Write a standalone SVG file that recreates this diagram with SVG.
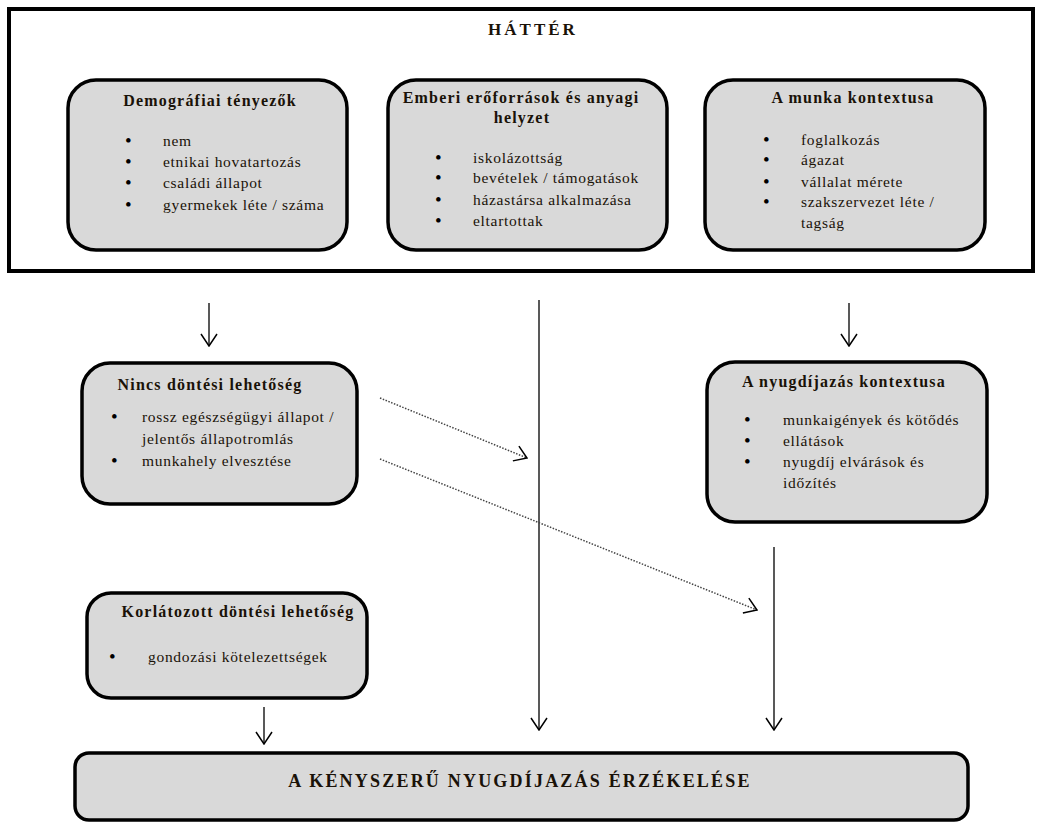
<svg xmlns="http://www.w3.org/2000/svg" width="1039" height="828" viewBox="0 0 1039 828">
<defs>
<marker id="open" viewBox="0 0 14 18" refX="13" refY="9" markerWidth="14" markerHeight="18" markerUnits="userSpaceOnUse" orient="auto">
<path d="M1,1 L13,9 L1,17" fill="none" stroke="#000" stroke-width="1.5"/>
</marker>
</defs>
<style>
.box{fill:#d9d9d9;stroke:#000;stroke-width:3.5}
.frame{fill:#fff;stroke:#000;stroke-width:4}
.t{font-family:"Liberation Serif","Times New Roman",serif;font-weight:bold;font-size:16px;letter-spacing:1.2px;fill:#1a1208;text-anchor:middle}
.b{font-family:"Liberation Serif","Times New Roman",serif;font-size:15.5px;letter-spacing:0.7px;fill:#1a1208}
.bu{font-size:19px;fill:#000}
.ln{stroke:#222;stroke-width:1.5;fill:none}
.dot{stroke:#444;stroke-width:1.5;stroke-dasharray:1.5 1.5;fill:none}
</style>
<rect width="1039" height="828" fill="#fff"/>
<g id="hatter">
<rect class="frame" x="9" y="9" width="1024" height="262"/>
<text class="t" x="533" y="35" style="letter-spacing:3px;font-size:17px">HÁTTÉR</text>
</g>
<g id="demografiai">
<rect class="box" x="68" y="80" width="279" height="170" rx="28"/>
<text class="t" x="210" y="106">Demográfiai tényezők</text>
<text class="b" y="146"><tspan class="bu" x="125" dy="1">•</tspan><tspan x="163" dy="-1">nem</tspan></text>
<text class="b" y="167"><tspan class="bu" x="125" dy="1">•</tspan><tspan x="163" dy="-1">etnikai hovatartozás</tspan></text>
<text class="b" y="188"><tspan class="bu" x="125" dy="1">•</tspan><tspan x="163" dy="-1">családi állapot</tspan></text>
<text class="b" y="210"><tspan class="bu" x="125" dy="1">•</tspan><tspan x="163" dy="-1">gyermekek léte / száma</tspan></text>
</g>
<g id="emberi">
<rect class="box" x="388" y="80" width="279" height="170" rx="28"/>
<text class="t" x="521" y="103">Emberi erőforrások és anyagi</text>
<text class="t" x="522" y="123">helyzet</text>
<text class="b" y="163"><tspan class="bu" x="435" dy="1">•</tspan><tspan x="473" dy="-1">iskolázottság</tspan></text>
<text class="b" y="183"><tspan class="bu" x="435" dy="1">•</tspan><tspan x="473" dy="-1">bevételek / támogatások</tspan></text>
<text class="b" y="205"><tspan class="bu" x="435" dy="1">•</tspan><tspan x="473" dy="-1">házastársa alkalmazása</tspan></text>
<text class="b" y="226"><tspan class="bu" x="435" dy="1">•</tspan><tspan x="473" dy="-1">eltartottak</tspan></text>
</g>
<g id="munka">
<rect class="box" x="705" y="80" width="280" height="170" rx="28"/>
<text class="t" x="853" y="103">A munka kontextusa</text>
<text class="b" y="145"><tspan class="bu" x="763" dy="1">•</tspan><tspan x="801" dy="-1">foglalkozás</tspan></text>
<text class="b" y="165"><tspan class="bu" x="763" dy="1">•</tspan><tspan x="801" dy="-1">ágazat</tspan></text>
<text class="b" y="187"><tspan class="bu" x="763" dy="1">•</tspan><tspan x="801" dy="-1">vállalat mérete</tspan></text>
<text class="b" y="207"><tspan class="bu" x="763" dy="1">•</tspan><tspan x="801" dy="-1">szakszervezet léte /</tspan></text>
<text class="b" x="801" y="228">tagság</text>
</g>
<g id="nincs">
<rect class="box" x="82" y="363" width="275" height="141" rx="28"/>
<text class="t" x="210" y="390">Nincs döntési lehetőség</text>
<text class="b" y="422"><tspan class="bu" x="111" dy="1">•</tspan><tspan x="142" dy="-1">rossz egészségügyi állapot /</tspan></text>
<text class="b" x="142" y="444">jelentős állapotromlás</text>
<text class="b" y="466"><tspan class="bu" x="111" dy="1">•</tspan><tspan x="142" dy="-1">munkahely elvesztése</tspan></text>
</g>
<g id="nyugdij">
<rect class="box" x="707" y="362" width="280" height="160" rx="28"/>
<text class="t" x="844" y="387">A nyugdíjazás kontextusa</text>
<text class="b" y="425"><tspan class="bu" x="744" dy="1">•</tspan><tspan x="783" dy="-1">munkaigények és kötődés</tspan></text>
<text class="b" y="446"><tspan class="bu" x="744" dy="1">•</tspan><tspan x="783" dy="-1">ellátások</tspan></text>
<text class="b" y="467"><tspan class="bu" x="744" dy="1">•</tspan><tspan x="783" dy="-1">nyugdíj elvárások és</tspan></text>
<text class="b" x="783" y="488">időzítés</text>
</g>
<g id="korlatozott">
<rect class="box" x="87" y="593" width="280" height="105" rx="24"/>
<text class="t" x="238" y="617">Korlátozott döntési lehetőség</text>
<text class="b" y="662"><tspan class="bu" x="109" dy="1">•</tspan><tspan x="148" dy="-1">gondozási kötelezettségek</tspan></text>
</g>
<g id="kenyszeru">
<rect class="box" x="75" y="753" width="893" height="67" rx="14"/>
<text class="t" x="520" y="787" style="font-size:18px;letter-spacing:2.2px">A KÉNYSZERŰ NYUGDÍJAZÁS ÉRZÉKELÉSE</text>
</g>
<g id="connectors">
<line class="ln" x1="209" y1="303" x2="209" y2="346" marker-end="url(#open)"/>
<line class="ln" x1="849" y1="303" x2="849" y2="346" marker-end="url(#open)"/>
<line class="ln" x1="539" y1="300" x2="539" y2="730" marker-end="url(#open)"/>
<line class="ln" x1="774" y1="547" x2="774" y2="730" marker-end="url(#open)"/>
<line class="ln" x1="264" y1="707" x2="264" y2="744" marker-end="url(#open)"/>
<line class="dot" x1="380" y1="398" x2="527" y2="458" marker-end="url(#open)"/>
<line class="dot" x1="380" y1="459" x2="757" y2="610" marker-end="url(#open)"/>
</g>
</svg>
